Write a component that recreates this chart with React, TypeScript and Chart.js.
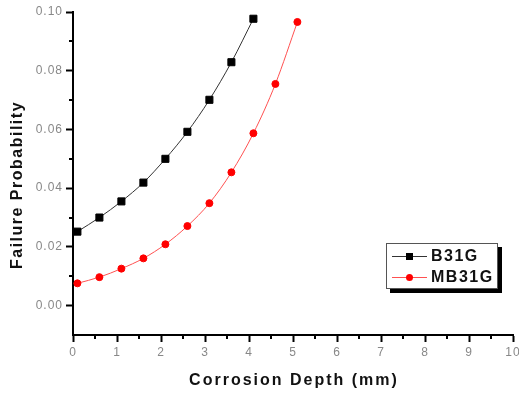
import React, { useEffect, useRef } from 'react';
import { Chart, registerables } from 'chart.js';
Chart.register(...registerables);

const depthB31G = [0.1, 0.6, 1.1, 1.6, 2.1, 2.6, 3.1, 3.6, 4.1];
const probB31G = [0.0252, 0.03, 0.0355, 0.0419, 0.05, 0.0592, 0.0701, 0.0829, 0.0977];
const depthMB31G = [0.1, 0.6, 1.1, 1.6, 2.1, 2.6, 3.1, 3.6, 4.1, 4.6, 5.1];
const probMB31G = [0.0076, 0.0097, 0.0126, 0.0161, 0.0209, 0.0271, 0.0349, 0.0454, 0.0587, 0.0755, 0.0966];
const xTicks = [0, 1, 2, 3, 4, 5, 6, 7, 8, 9, 10];
const yTicks = [0, 0.02, 0.04, 0.06, 0.08, 0.1];
const xMinorTicks = [0.5, 1.5, 2.5, 3.5, 4.5, 5.5, 6.5, 7.5, 8.5, 9.5];
const yMinorTicks = [0.01, 0.03, 0.05, 0.07, 0.09];
const xTitle = 'Corrosion Depth (mm)';
const yTitle = 'Failure Probability';
const seriesNames = ['B31G', 'MB31G'];

const FONT = '"Liberation Sans", Arial, sans-serif';

const decor = {
  id: 'decor',
  beforeDraw(chart: any) {
    chart.ctx.letterSpacing = '1px';
  },
  afterDraw(chart: any) {
    const ctx = chart.ctx as CanvasRenderingContext2D;
    const xs = chart.scales.x;
    const ys = chart.scales.y;
    const area = chart.chartArea;
    ctx.save();
    ctx.strokeStyle = '#000';
    ctx.lineWidth = 2;
    ctx.beginPath();
    xMinorTicks.forEach((v) => {
      const px = Math.round(xs.getPixelForValue(v));
      ctx.moveTo(px, area.bottom);
      ctx.lineTo(px, area.bottom + 4);
    });
    yMinorTicks.forEach((v) => {
      const py = Math.round(ys.getPixelForValue(v));
      ctx.moveTo(area.left, py);
      ctx.lineTo(area.left - 4, py);
    });
    ctx.stroke();

    // axis titles
    ctx.fillStyle = '#111';
    ctx.font = `bold 16px ${FONT}`;
    ctx.textAlign = 'center';
    ctx.textBaseline = 'middle';
    (ctx as any).letterSpacing = '2px';
    ctx.fillText(xTitle, 294, 381);
    ctx.save();
    ctx.translate(17.5, 185);
    ctx.rotate(-Math.PI / 2);
    (ctx as any).letterSpacing = '1.5px';
    ctx.fillText(yTitle, 0, 0);
    ctx.restore();

    // legend
    const bx = 386, by = 243, bw = 112, bh = 46;
    ctx.fillStyle = '#000';
    ctx.fillRect(bx + 4, by + 4, bw, bh);
    ctx.fillStyle = '#fff';
    ctx.fillRect(bx, by, bw, bh);
    ctx.strokeStyle = '#555';
    ctx.lineWidth = 1;
    ctx.strokeRect(bx + 0.5, by + 0.5, bw - 1, bh - 1);
    const rows = [256, 277];
    chart.data.datasets.forEach((ds: any, i: number) => {
      const y = rows[i];
      ctx.strokeStyle = ds.borderColor;
      ctx.lineWidth = 1;
      ctx.beginPath();
      ctx.moveTo(392, y + 0.5);
      ctx.lineTo(427, y + 0.5);
      ctx.stroke();
      ctx.fillStyle = ds.pointBackgroundColor;
      if (ds.pointStyle === 'rect') {
        ctx.fillRect(406, y - 3, 7, 7);
      } else {
        ctx.beginPath();
        ctx.arc(409.5, y + 0.5, 3.5, 0, Math.PI * 2);
        ctx.fill();
      }
      ctx.fillStyle = '#111';
      ctx.font = `bold 16px ${FONT}`;
      ctx.textAlign = 'left';
      ctx.textBaseline = 'middle';
      (ctx as any).letterSpacing = '1.5px';
      ctx.fillText(ds.label, 431, y + 1);
    });
    ctx.restore();
  },
};

export default function App() {
  const ref = useRef<HTMLCanvasElement>(null);
  useEffect(() => {
    if (!ref.current) return;
    const chart = new Chart(ref.current, {
      type: 'line',
      data: {
        datasets: [
          {
            label: seriesNames[0],
            data: depthB31G.map((x, i) => ({ x, y: probB31G[i] })),
            borderColor: '#333',
            backgroundColor: '#000',
            pointBackgroundColor: '#000',
            pointBorderColor: '#000',
            pointStyle: 'rect',
            pointRadius: 5,
            borderWidth: 1,
            cubicInterpolationMode: 'monotone',
          },
          {
            label: seriesNames[1],
            data: depthMB31G.map((x, i) => ({ x, y: probMB31G[i] })),
            borderColor: '#ff5050',
            backgroundColor: '#ff0000',
            pointBackgroundColor: '#ff0000',
            pointBorderColor: '#ff0000',
            pointStyle: 'circle',
            pointRadius: 3.5,
            borderWidth: 1,
            cubicInterpolationMode: 'monotone',
          },
        ],
      } as any,
      options: {
        animation: false,
        responsive: false,
        devicePixelRatio: 1,
        layout: { padding: { top: 12, right: 2, left: 0, bottom: 0 } },
        plugins: { legend: { display: false }, tooltip: { enabled: false } },
        scales: {
          x: {
            type: 'linear',
            min: 0,
            max: 10,
            afterBuildTicks: (s: any) => {
              s.ticks = xTicks.map((v) => ({ value: v }));
            },
            afterFit: (s: any) => {
              s.height = 59;
              s.paddingRight = 4;
            },
            grid: { drawOnChartArea: false, tickLength: 7, tickColor: '#000', tickWidth: 2 },
            border: { color: '#000', width: 2 },
            ticks: {
              color: '#888',
              font: { family: FONT, size: 12 },
              padding: 3,
              maxRotation: 0,
              callback: (v: any) => String(v),
            },
          },
          y: {
            type: 'linear',
            min: -0.01,
            max: 0.1,
            afterBuildTicks: (s: any) => {
              s.ticks = yTicks.map((v) => ({ value: v }));
            },
            afterFit: (s: any) => {
              s.width = 73;
            },
            grid: { drawOnChartArea: false, tickLength: 7, tickColor: '#000', tickWidth: 2 },
            border: { color: '#000', width: 2 },
            ticks: {
              color: '#888',
              font: { family: FONT, size: 12 },
              padding: 3,
              callback: (v: any) => Number(v).toFixed(2),
            },
          },
        },
      } as any,
      plugins: [decor],
    });
    return () => chart.destroy();
  }, []);
  return (
    <div style={{ position: 'absolute', left: 0, top: 0, width: 519, height: 394, background: '#fff' }}>
      <canvas ref={ref} width={519} height={394} style={{ display: 'block' }} />
    </div>
  );
}
